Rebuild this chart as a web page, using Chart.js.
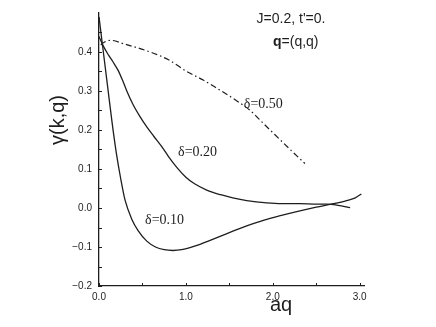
<!DOCTYPE html>
<html>
<head>
<meta charset="utf-8">
<title>gamma(k,q) vs aq</title>
<script src="https://cdn.jsdelivr.net/npm/chart.js@4/dist/chart.umd.min.js"></script>
<style>
    html, body { margin: 0; padding: 0; background: #fff; }
    #wrap { width: 436px; height: 327px; position: relative; }
</style>
</head>
<body>
<div id="wrap"><canvas id="gammaChart" width="436" height="327"></canvas></div>
<script>
// Values
const d10X = [0, 0.05, 0.1, 0.15, 0.2, 0.25, 0.3, 0.38, 0.45, 0.55, 0.65, 0.75, 0.85, 0.95, 1.1, 1.3, 1.5, 1.7, 1.9, 2.1, 2.3, 2.5, 2.7, 2.85, 2.95, 3.02];
const d10Y = [0.49, 0.40, 0.31, 0.22, 0.14, 0.075, 0.02, -0.03, -0.058, -0.085, -0.1, -0.107, -0.109, -0.107, -0.098, -0.081, -0.063, -0.046, -0.031, -0.019, -0.008, 0.002, 0.011, 0.019, 0.026, 0.036];

const d20X = [0, 0.05, 0.11, 0.16, 0.22, 0.27, 0.32, 0.39, 0.47, 0.55, 0.63, 0.72, 0.8, 0.9, 1.0, 1.1, 1.24, 1.4, 1.54, 1.7, 1.93, 2.1, 2.31, 2.5, 2.62, 2.75, 2.89];
const d20Y = [0.44, 0.415, 0.392, 0.375, 0.353, 0.328, 0.30, 0.266, 0.235, 0.208, 0.184, 0.158, 0.132, 0.103, 0.079, 0.062, 0.046, 0.034, 0.026, 0.019, 0.013, 0.011, 0.011, 0.01, 0.01, 0.007, 0.001];

const d50X = [0.02, 0.06, 0.13, 0.3, 0.59, 0.8, 1.01, 1.2, 1.35, 1.55, 1.74, 1.9, 2.08, 2.2, 2.37];
const d50Y = [0.418, 0.425, 0.43, 0.42, 0.40, 0.38, 0.35, 0.328, 0.308, 0.28, 0.25, 0.215, 0.176, 0.15, 0.114];

const xTickLabels = ['0.0', '1.0', '2.0', '3.0'];
const yTickLabels = ['\u22120.2', '\u22120.1', '0.0', '0.1', '0.2', '0.3', '0.4'];

// curve annotations: [text, x, y] in data units
const curveLabels = [
    ['\u03b4=0.50', 1.667, 0.266],
    ['\u03b4=0.20', 0.91, 0.142],
    ['\u03b4=0.10', 0.53, -0.031],
];

const INK = '#1e1e1e';

const toPoints = (xs, ys) => xs.map((x, i) => ({ x, y: ys[i] }));

// inward tick marks, curve labels, axis titles and the parameter note
const decorPlugin = {
    id: 'decor',
    afterDraw(chart) {
        const { ctx, scales: { x, y } } = chart;
        ctx.save();
        ctx.strokeStyle = INK;
        ctx.lineWidth = 1;
        ctx.beginPath();
        y.ticks.forEach((t) => {
            const py = Math.round(y.getPixelForValue(t.value)) + 0.5;
            ctx.moveTo(x.left, py);
            ctx.lineTo(x.left + 3, py);
        });
        x.ticks.forEach((t) => {
            const px = Math.round(x.getPixelForValue(t.value)) + 0.5;
            ctx.moveTo(px, y.bottom);
            ctx.lineTo(px, y.bottom - 3);
        });
        ctx.stroke();

        ctx.fillStyle = INK;
        ctx.textBaseline = 'middle';
        ctx.textAlign = 'left';
        ctx.font = '14px "Liberation Serif", "DejaVu Serif", serif';
        curveLabels.forEach(([txt, vx, vy]) => {
            ctx.fillText(txt, x.getPixelForValue(vx), y.getPixelForValue(vy));
        });

        ctx.font = '14px "Liberation Sans", Arial, sans-serif';
        ctx.textAlign = 'center';
        ctx.fillText("J=0.2, t'=0.", 291, 19);
        ctx.textAlign = 'left';
        ctx.font = 'bold 14px "Liberation Sans", Arial, sans-serif';
        const qW = ctx.measureText('q').width;
        ctx.fillText('q', 273, 42);
        ctx.font = '14px "Liberation Sans", Arial, sans-serif';
        ctx.fillText('=(q,q)', 273 + qW, 42);

        ctx.font = '20px "Liberation Sans", Arial, sans-serif';
        ctx.textAlign = 'center';
        ctx.fillText('aq', 281, 305);
        ctx.translate(58, 120);
        ctx.rotate(-Math.PI / 2);
        ctx.fillText('\u03b3(k,q)', 0, 0);
        ctx.restore();
    },
};

const lineStyle = {
    borderColor: INK,
    borderWidth: 1.3,
    pointRadius: 0,
    cubicInterpolationMode: 'monotone',
    fill: false,
};

new Chart(document.getElementById('gammaChart'), {
    type: 'line',
    data: {
        datasets: [
            { ...lineStyle, label: 'delta=0.10', data: toPoints(d10X, d10Y) },
            { ...lineStyle, label: 'delta=0.20', data: toPoints(d20X, d20Y) },
            { ...lineStyle, label: 'delta=0.50', data: toPoints(d50X, d50Y), borderDash: [6, 3, 1.5, 3], borderWidth: 1.2 },
        ],
    },
    options: {
        responsive: false,
        animation: false,
        layout: { padding: { top: 3, right: 72, bottom: 0, left: 0 } },
        plugins: { legend: { display: false }, tooltip: { enabled: false } },
        scales: {
            x: {
                type: 'linear',
                min: 0,
                max: 3.05,
                afterFit: (s) => { s.height = 41; },
                afterBuildTicks: (s) => {
                    s.ticks = [0, 0.5, 1, 1.5, 2, 2.5, 3].map((v) => ({ value: v }));
                },
                ticks: {
                    padding: 5,
                    color: INK,
                    font: { family: '"Liberation Sans", Arial, sans-serif', size: 10 },
                    maxRotation: 0,
                    autoSkip: false,
                    callback: (v) => (Number.isInteger(v) ? xTickLabels[v] : ''),
                },
                grid: { drawOnChartArea: false, drawTicks: false },
                border: { display: true, color: INK, width: 1.3 },
            },
            y: {
                type: 'linear',
                min: -0.2,
                max: 0.5,
                afterFit: (s) => { s.width = 99; },
                afterBuildTicks: (s) => {
                    const vals = [];
                    for (let i = -4; i <= 9; i++) vals.push(i * 0.05);
                    s.ticks = vals.map((v) => ({ value: v }));
                },
                ticks: {
                    padding: 7,
                    color: INK,
                    font: { family: '"Liberation Sans", Arial, sans-serif', size: 10 },
                    autoSkip: false,
                    callback: (v) => {
                        const k = Math.round(v * 20);
                        if (k % 2 !== 0) return '';
                        return yTickLabels[k / 2 + 2] || '';
                    },
                },
                grid: { drawOnChartArea: false, drawTicks: false },
                border: { display: true, color: INK, width: 1.3 },
            },
        },
    },
    plugins: [decorPlugin],
});
</script>
</body>
</html>
